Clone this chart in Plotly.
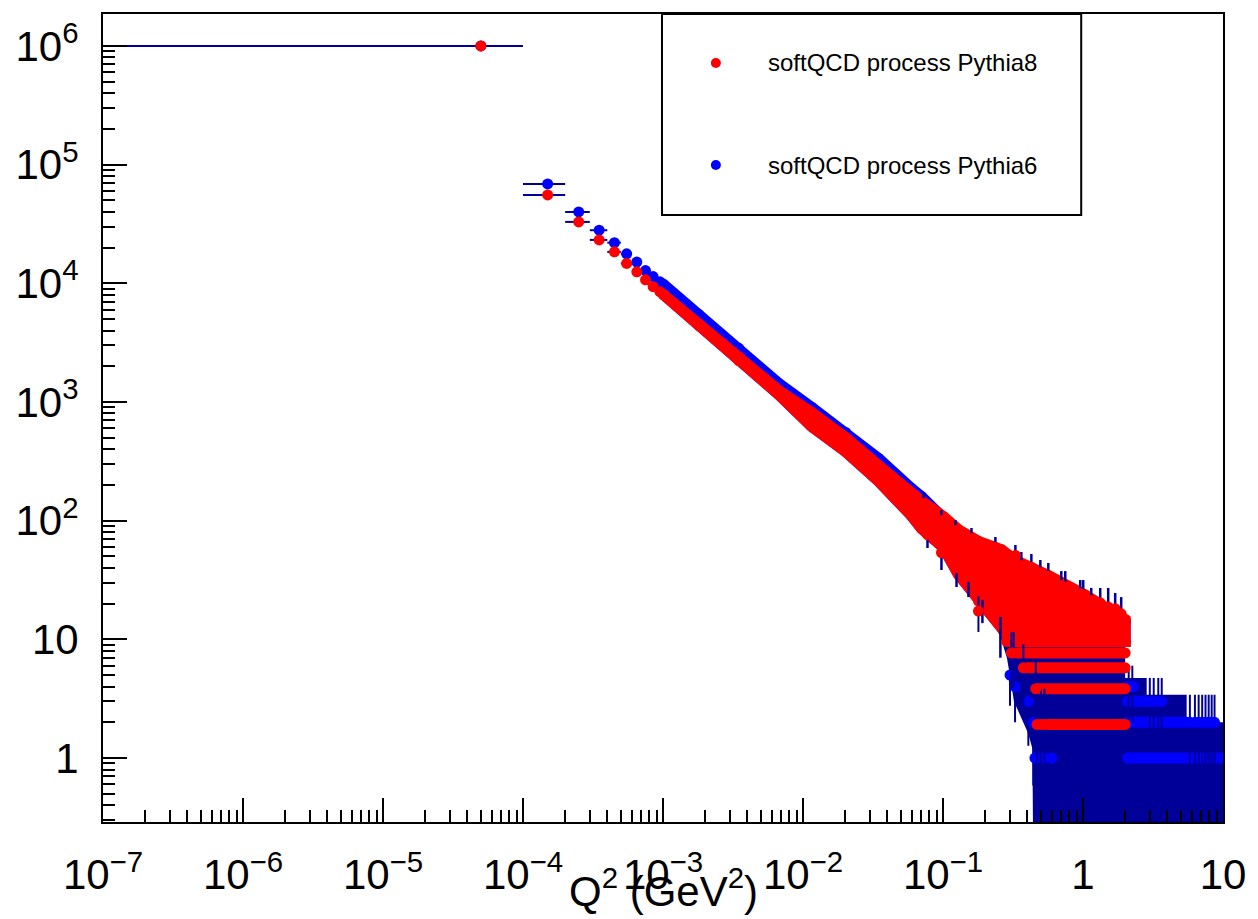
import plotly.graph_objects as go

NAVY = "#000099"
RED = "#ff0000"
BLUE = "#0000ff"
FONT = "Liberation Sans, Arial, Helvetica, sans-serif"

# ---------------- data ----------------
# first, well separated bins (bin width 1e-4, first bin 0..1e-4)
disc_q2 = [5e-5, 1.5e-4, 2.5e-4, 3.5e-4, 4.5e-4, 5.5e-4, 6.5e-4, 7.5e-4, 8.5e-4, 9.5e-4]
disc_hw_plus = [5e-5, 5e-5, 5e-5, 5e-5, 5e-5, 5e-5, 5e-5, 5e-5, 5e-5, 5e-5]
disc_hw_minus = [4.9999e-5, 5e-5, 5e-5, 5e-5, 5e-5, 5e-5, 5e-5, 5e-5, 5e-5, 5e-5]
red_disc = [1.0e6, 5.55e4, 3.29e4, 2.32e4, 1.84e4, 1.47e4, 1.25e4, 1.07e4, 9.37e3, 8.5e3]
blue_disc = [1.0e6, 6.87e4, 3.99e4, 2.80e4, 2.20e4, 1.77e4, 1.51e4, 1.28e4, 1.14e4, 1.03e4]

# dense region: envelope (top / bottom bin values) of the overlapping bins
env_q2 = [1.000e-3, 1.806e-3, 3.482e-3, 6.715e-3, 1.155e-2, 2.018e-2, 3.468e-2, 5.963e-2, 7.025e-2,
          0.1008, 0.1290, 0.1791, 0.2613, 0.3030, 0.3453, 0.5652, 1.0375, 1.9995]
red_hi = [8100, 4550, 2420, 1250, 815, 502, 292, 163, 146.5,
          108, 84, 67, 57, 50, 45, 34.5, 23.6, 14.7]
red_lo = [8100, 4420, 2230, 1156, 622, 382, 215, 110, 86,
          59.4, 35.2, 21, 12.6, 9.6, 9.6, 9.6, 9.6, 9.6]
blue_hi = [9900, 5450, 2830, 1431, 899, 553, 334, 186.6, 159.8,
           105, 81, 65, 55, 48, 43, 33, 22.6, 14]

# red bins on the upper edge whose error bars stick out (value, upward error)
redtop_q2 = [0.0726, 0.0975, 0.1228, 0.1597, 0.2367, 0.3289, 0.3628, 0.4276, 0.4957, 0.5652,
             0.6997, 0.7470, 0.9559, 1.0041, 1.1450, 1.3274, 1.5136, 1.698, 1.874]
redtop_val = [139.5, 100.3, 82.6, 70.7, 59.4, 50.9, 41.9, 40.5, 36.4, 34.0,
              28.4, 27.5, 24.2, 23.4, 21.2, 20.3, 18.7, 18.1, 16.4]
redtop_err = [31.5, 22.7, 18.7, 16.0, 13.4, 11.5, 12.5, 11.9, 10.2, 10.0,
              9.2, 10.1, 7.4, 8.2, 5.9, 6.8, 8.4, 6.5, 6.3]
# red bins on the lower edge (value, downward error)
redbot_q2 = [0.0775, 0.0975, 0.1249, 0.152, 0.1912, 0.257]
redbot_val = [76.4, 53.9, 40.3, 33.8, 23.9, 17.2]
redbot_err = [17.6, 15.5, 12.7, 11.1, 10.2, 10.2]

# low-count red levels (weight ~1.92 per entry): level, first Q2, last Q2
red_band_val = [1.92, 3.84, 5.76, 7.68, 9.6]
red_band_q2_from = [0.56, 0.47, 0.40, 0.34, 0.285]
red_band_q2_to = [1.9995, 1.9995, 1.9995, 1.9995, 1.9995]
red_sparse_q2 = [0.47, 0.50, 0.53, 0.375, 0.308, 0.32, 0.46, 0.1791]
red_sparse_val = [1.92, 1.92, 1.92, 5.76, 7.68, 7.68, 3.84, 17.3]
red_sparse_err = [1.92, 1.92, 1.92, 3.33, 3.84, 3.84, 2.72, 5.76]

# low-count blue levels beyond Q2 = 2 (weight 1)
blue_band_val = [1, 2, 3, 4]
blue_band_q2_from = [2.08, 2.08, 2.08, 2.08]
blue_band_q2_to = [10.5, 5.5, 2.8, 2.3]
blue_sparse_q2 = [0.301, 0.327, 0.407, 0.4416, 0.4536, 0.486, 0.527, 0.60,
                  2.12, 2.25,
                  3.0, 3.2, 3.45, 3.65,
                  5.8, 6.3, 6.7, 7.1, 7.5, 7.9, 8.3, 8.7]
blue_sparse_val = [5, 4, 3, 2, 1, 1, 1, 1,
                   4, 4,
                   3, 3, 3, 3,
                   2, 2, 2, 2, 2, 2, 2, 2]
blue_sparse_err = [2.236, 2.0, 1.732, 1.414, 0.999, 0.999, 0.999, 0.999,
                   2.0, 2.0,
                   1.732, 1.732, 1.732, 1.732,
                   1.414, 1.414, 1.414, 1.414, 1.414, 1.414, 1.414, 1.414]

# region covered by the overlapping error bars of the low-count bins
navy_q2 = [0.44, 0.435, 0.407, 0.363, 0.321, 0.305, 0.286, 0.261, 0.261, 2.0, 2.0, 2.85, 2.85, 5.5, 5.5, 10.5, 10.5]
navy_val = [0.2, 1.2, 1.6, 2.2, 3.0, 4.5, 7.0, 9.9, 12, 12, 4.73, 4.73, 3.41, 3.41, 2.0, 2.0, 0.2]

x_tickvals = [1e-7, 1e-6, 1e-5, 1e-4, 1e-3, 1e-2, 1e-1, 1, 10]
x_ticktext = ["10<sup>\u22127</sup>", "10<sup>\u22126</sup>", "10<sup>\u22125</sup>", "10<sup>\u22124</sup>",
              "10<sup>\u22123</sup>", "10<sup>\u22122</sup>", "10<sup>\u22121</sup>", "1", "10"]
y_tickvals = [1, 10, 100, 1e3, 1e4, 1e5, 1e6]
y_ticktext = ["1", "10", "10<sup>2</sup>", "10<sup>3</sup>", "10<sup>4</sup>", "10<sup>5</sup>", "10<sup>6</sup>"]

legend_labels = ["softQCD process Pythia8", "softQCD process Pythia6"]

# ---------------- figure ----------------
MS = 11
fig = go.Figure()


def add(tr):
    tr.update(showlegend=False, hoverinfo="skip")
    fig.add_trace(tr)


# navy block of error bars
add(go.Scatter(x=navy_q2, y=navy_val, mode="lines", fill="toself", fillcolor=NAVY,
               line=dict(width=0, color=NAVY)))

# blue dense envelope
add(go.Scatter(x=env_q2 + env_q2[::-1], y=blue_hi + red_lo[::-1], mode="lines", fill="toself",
               fillcolor=BLUE, line=dict(width=MS, color=BLUE)))
add(go.Scatter(x=env_q2, y=blue_hi, mode="markers", marker=dict(size=MS, color=BLUE)))

# blue low-count levels
for v, a, b in zip(blue_band_val, blue_band_q2_from, blue_band_q2_to):
    add(go.Scatter(x=[a, b], y=[v, v], mode="lines+markers", line=dict(width=MS, color=BLUE),
                   marker=dict(size=MS, color=BLUE)))
add(go.Scatter(x=blue_sparse_q2, y=blue_sparse_val, mode="markers", marker=dict(size=MS, color=BLUE),
               error_y=dict(type="data", array=blue_sparse_err, color=NAVY, thickness=2, width=0)))

# red dense envelope
add(go.Scatter(x=env_q2 + env_q2[::-1], y=red_hi + red_lo[::-1], mode="lines", fill="toself",
               fillcolor=RED, line=dict(width=MS, color=RED)))
add(go.Scatter(x=env_q2, y=red_hi, mode="markers", marker=dict(size=MS, color=RED)))
add(go.Scatter(x=env_q2, y=red_lo, mode="markers", marker=dict(size=MS, color=RED)))
add(go.Scatter(x=redtop_q2, y=redtop_val, mode="markers", marker=dict(size=MS, color=RED),
               error_y=dict(type="data", symmetric=False, array=redtop_err,
                            arrayminus=[0] * len(redtop_err), color=NAVY, thickness=2.5, width=0)))
add(go.Scatter(x=redbot_q2, y=redbot_val, mode="markers", marker=dict(size=MS, color=RED),
               error_y=dict(type="data", symmetric=False, array=[0] * len(redbot_err),
                            arrayminus=redbot_err, color=NAVY, thickness=2.5, width=0)))

# red low-count levels
for v, a, b in zip(red_band_val, red_band_q2_from, red_band_q2_to):
    add(go.Scatter(x=[a, b], y=[v, v], mode="lines+markers", line=dict(width=MS, color=RED),
                   marker=dict(size=MS, color=RED)))
add(go.Scatter(x=red_sparse_q2, y=red_sparse_val, mode="markers", marker=dict(size=MS, color=RED),
               error_y=dict(type="data", array=red_sparse_err, color=NAVY, thickness=2, width=0)))

# separated bins
add(go.Scatter(x=disc_q2, y=blue_disc, mode="markers", marker=dict(size=MS, color=BLUE),
               error_x=dict(type="data", symmetric=False, array=disc_hw_plus, arrayminus=disc_hw_minus,
                            color=NAVY, thickness=2, width=0)))
add(go.Scatter(x=disc_q2, y=red_disc, mode="markers", marker=dict(size=MS, color=RED),
               error_x=dict(type="data", symmetric=False, array=disc_hw_plus, arrayminus=disc_hw_minus,
                            color=NAVY, thickness=2, width=0)))

# minor tick positions
x_minor = [d * 10.0 ** e for e in range(-7, 1) for d in range(2, 10)]
y_minor = [d * 10.0 ** e for e in range(-1, 7) for d in range(2, 10)]

axis_common = dict(type="log", showline=True, linecolor="black", linewidth=2, mirror=True,
                   ticks="inside", ticklen=24, tickwidth=1.5, tickcolor="black",
                   showgrid=False, zeroline=False, tickmode="array",
                   tickfont=dict(family=FONT, size=42, color="black"))

fig.update_xaxes(**axis_common, range=[-7, 1], tickvals=x_tickvals, ticktext=x_ticktext,
                 ticklabelstandoff=15,
                 minor=dict(tickmode="array", tickvals=x_minor, ticks="inside", ticklen=12,
                            tickwidth=1.5, tickcolor="black", showgrid=False))
fig.update_yaxes(**axis_common, range=[-0.539, 6.269], tickvals=y_tickvals, ticktext=y_ticktext,
                 ticklabelstandoff=14,
                 minor=dict(tickmode="array", tickvals=y_minor, ticks="inside", ticklen=12,
                            tickwidth=1.5, tickcolor="black", showgrid=False))

# x axis title (ROOT places it overlapping the labels)
fig.add_annotation(text="Q<sup>2</sup> (GeV<sup>2</sup>)", xref="paper", yref="paper", x=0.5, y=-0.082,
                   xanchor="center", yanchor="middle", showarrow=False,
                   font=dict(family=FONT, size=42, color="black"))

# legend box
fig.add_shape(type="rect", xref="paper", yref="paper", x0=0.4991, x1=0.8734, y0=0.7512, y1=1.0,
              line=dict(color="black", width=2), fillcolor="white", layer="above")
for yy, col, lab in zip([0.9394, 0.8131], [RED, BLUE], legend_labels):
    fig.add_shape(type="circle", xref="paper", yref="paper", xsizemode="pixel", ysizemode="pixel",
                  xanchor=0.5472, yanchor=yy, x0=-5, x1=5, y0=-5, y1=5,
                  fillcolor=col, line=dict(width=0), layer="above")
    fig.add_annotation(text=lab, xref="paper", yref="paper", x=0.5918, y=yy, xanchor="left",
                       yanchor="middle", showarrow=False, font=dict(family=FONT, size=24, color="black"))

fig.update_layout(width=1258, height=919, margin=dict(l=103, r=33, t=14, b=97),
                  paper_bgcolor="white", plot_bgcolor="white", showlegend=False)

fig.write_html("out.html")
